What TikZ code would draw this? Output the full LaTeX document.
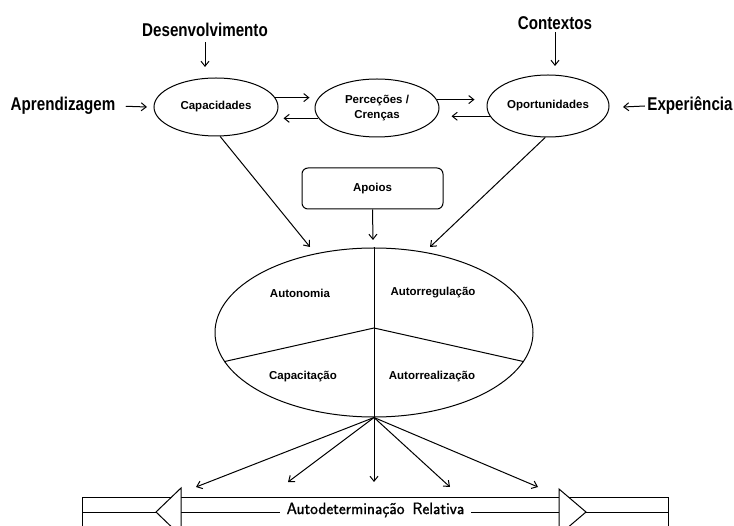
\documentclass[tikz,border=0pt]{standalone}
\usepackage{fontspec}
\usetikzlibrary{arrows.meta,shapes.geometric}
\newfontfamily\biglbl[FakeStretch=0.82]{Liberation Sans}
\newfontfamily\smlbl{Liberation Sans}
\newfontfamily\bandfont[FakeBold=1.2]{Latin Modern Sans}
\begin{document}
\begin{tikzpicture}[x=1pt,y=-1pt,
  line width=1pt,
  arr/.style={-{Straight Barb[length=5pt,width=8pt]}},
  biglabel/.style={font=\biglbl\bfseries\fontsize{18.5}{20}\selectfont, inner sep=2pt},
  smalltext/.style={font=\smlbl\bfseries\fontsize{11.5}{15}\selectfont, align=center},
  ellnode/.style={draw, ellipse, minimum width=124pt, minimum height=58pt, inner sep=0pt, smalltext},
  boxnode/.style={draw, rounded corners=6pt, minimum width=141pt, minimum height=41pt, smalltext},
  bandtext/.style={fill=white, font=\bandfont\fontsize{16.5}{18}\selectfont, inner xsep=7pt, inner ysep=2pt}
]
\useasboundingbox (0,0) rectangle (734,526);
\fill[white] (0,0) rectangle (734,526);
\clip (0,0) rectangle (734,526);

% outer labels
\node[biglabel] (des) at (205,30) {Desenvolvimento};
\node[biglabel] (ctx) at (555,23) {Contextos};
\node[biglabel] (apr) at (63,106) {Aprendizagem};
\node[biglabel] (exp) at (690,106) {Experiência};

% ellipses
\node[ellnode] (cap) at (216,107) {Capacidades};
\node[ellnode] (per) at (377,108) {Perceções /\\Crenças};
\node[ellnode, minimum width=122pt, minimum height=62pt] (opo) at (548,106) {Oportunidades};

% arrow ends
\coordinate (desT) at (205,67);
\coordinate (ctxT) at (555,66);
\coordinate (aprT) at (147,107);
\coordinate (expT) at (623,107);

\draw[arr, shorten <=3pt] (des.south) -- (desT);
\draw[arr] (ctx.south) -- (ctxT);
\draw[arr, shorten <=8pt] (apr.east) -- (aprT);
\draw[arr] (exp.west) -- (expT);

% horizontal exchanges
\draw[arr, shorten >=5pt] (cap.9) -- (cap.9 -| per.west);
\draw[arr, shorten >=5pt] (per.190) -- (per.190 -| cap.east);
\draw[arr, shorten >=12pt] (per.8) -- (per.8 -| opo.west);
\draw[arr, shorten >=12pt] (opo.190) -- (opo.190 -| per.east);

% supports
\node[boxnode] (apo) at (372.5,188.5) {Apoios};

% big ellipse
\node[draw, ellipse, minimum width=318pt, minimum height=169pt, inner sep=0pt] (big) at (374,332.5) {};
\coordinate (hub) at (374,328);
\draw (big.north) -- (big.south);
\draw (big.191) -- (hub) -- (big.349);

\node[smalltext] (aut) at (300,293) {Autonomia};
\node[smalltext] (reg) at (433,293) {Autorregulação};
\node[smalltext] (capt) at (303,377) {Capacitação};
\node[smalltext] (real) at (432,377) {Autorrealização};

% converging arrows
\coordinate (capT) at (310,247);
\coordinate (opoT) at (430,247);
\coordinate (apoT) at (373,240);
\draw[arr] (cap.-82) -- (capT);
\draw[arr] (opo.-95) -- (opoT);
\draw[arr] (apo.south) -- (apoT);

% diverging arrows
\coordinate (b1) at (196,487);
\coordinate (b2) at (288,482);
\coordinate (b3) at (374,482);
\coordinate (b4) at (450,487);
\coordinate (b5) at (538,487);
\foreach \t in {b1,b2,b3,b4,b5} \draw[arr] (big.south) -- (\t);

% band (double block arrow)
\draw (82,498) rectangle (668,527);
\draw (82,512) -- (156,512);
\draw (586,512) -- (668,512);
\draw (181,512) -- (559,512);
\filldraw[fill=white] (181,488) -- (156,512) -- (181,536) -- cycle;
\filldraw[fill=white] (559,489) -- (586,512) -- (559,535) -- cycle;
\node[bandtext] (ad) at (375.5,510) {Autodeterminação\, Relativa};
\end{tikzpicture}
\end{document}
